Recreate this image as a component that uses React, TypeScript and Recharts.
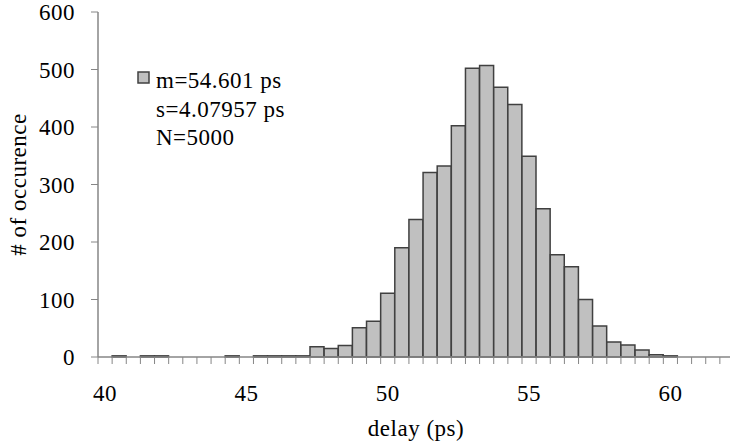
import React from 'react';
import { BarChart, Bar, XAxis, YAxis, Legend } from 'recharts';

// histogram bins (ps) and counts
const bins = [
  '40', '40.5', '41', '41.5', '42', '42.5', '43', '43.5', '44', '44.5',
  '45', '45.5', '46', '46.5', '47', '47.5', '48', '48.5', '49', '49.5',
  '50', '50.5', '51', '51.5', '52', '52.5', '53', '53.5', '54', '54.5',
  '55', '55.5', '56', '56.5', '57', '57.5', '58', '58.5', '59', '59.5',
  '60', '60.5', '61', '61.5', '62',
];
const counts = [
  0, 2, 0, 2, 2, 0, 0, 0, 0, 2,
  0, 2, 2, 2, 2, 18, 15, 20, 51, 62,
  111, 190, 239, 321, 332, 402, 502, 507, 469, 439,
  349, 258, 178, 157, 100, 54, 26, 21, 12, 4,
  2, 0, 0, 0, 0,
];
const yTicks = [0, 100, 200, 300, 400, 500, 600];
const xLabels = ['40', '45', '50', '55', '60'];
const legendLines = ['m=54.601 ps', 's=4.07957 ps', 'N=5000'];

const data = bins.map((b, i) => ({ bin: b, count: counts[i] }));

const FONT = '"Liberation Serif", "Times New Roman", serif';
const AXIS = '#868686';
const textStyle = { fontFamily: FONT, fontSize: 23, letterSpacing: 0.5, fill: '#000' };

// category ticks: tick mark on each bin boundary, label only on whole 5 ps
function BinTick(props: any) {
  const { x, y, payload, visibleTicksCount } = props;
  const half = payload.offset || 0;
  const last = payload.index === visibleTicksCount - 1;
  return (
    <g>
      <line x1={x - half} x2={x - half} y1={y} y2={y + 7} stroke={AXIS} strokeWidth={1} />
      {last && <line x1={x + half} x2={x + half} y1={y} y2={y + 7} stroke={AXIS} strokeWidth={1} />}
      {xLabels.includes(payload.value) && (
        <text x={x} y={y + 28} dy="0.71em" textAnchor="middle" style={textStyle}>
          {payload.value}
        </text>
      )}
    </g>
  );
}

function YTitle(props: any) {
  const vb = props.viewBox || { x: 0, y: 0, width: 0, height: 0 };
  const cx = vb.x + 18;
  const cy = vb.y + vb.height / 2;
  return (
    <text
      x={cx}
      y={cy}
      transform={`rotate(-90, ${cx}, ${cy})`}
      textAnchor="middle"
      dominantBaseline="central"
      style={textStyle}
    >
      # of occurence
    </text>
  );
}

function StatsLegend() {
  return (
    <svg width={170} height={90} style={{ overflow: 'visible' }}>
      <rect x={2} y={6} width={11} height={11} fill="#c0c0c0" stroke="#404040" strokeWidth={1.5} />
      {legendLines.map((line, i) => (
        <text key={line} x={20} y={22 + i * 28.7} style={textStyle}>
          {line}
        </text>
      ))}
    </svg>
  );
}

export default function App() {
  return (
    <div style={{ position: 'absolute', left: 0, top: 0, width: 730, height: 447, overflow: 'hidden', background: '#fff' }}>
      <BarChart
        width={740}
        height={447}
        data={data}
        margin={{ top: 12, right: 6, bottom: 10, left: 0 }}
        barCategoryGap={0}
      >
        <XAxis
          dataKey="bin"
          interval={0}
          height={80}
          tickLine={false}
          tickSize={0}
          tickMargin={0}
          axisLine={{ stroke: AXIS, strokeWidth: 1.5 }}
          tick={<BinTick />}
          label={{ value: 'delay (ps)', position: 'insideBottom', offset: 1, style: textStyle }}
        />
        <YAxis
          width={98}
          domain={[0, 600]}
          ticks={yTicks}
          interval={0}
          tickSize={7}
          tickMargin={16}
          tickLine={{ stroke: AXIS, strokeWidth: 1 }}
          axisLine={{ stroke: AXIS, strokeWidth: 1.5 }}
          tick={{ ...textStyle }}
          label={YTitle}
        />
        <Legend
          layout="vertical"
          verticalAlign="middle"
          align="center"
          wrapperStyle={{ left: 136, top: 66, width: 'auto', height: 'auto' }}
          content={() => <StatsLegend />}
        />
        <Bar
          dataKey="count"
          fill="#c0c0c0"
          stroke="#404040"
          strokeWidth={1.5}
          isAnimationActive={false}
        />
      </BarChart>
    </div>
  );
}
